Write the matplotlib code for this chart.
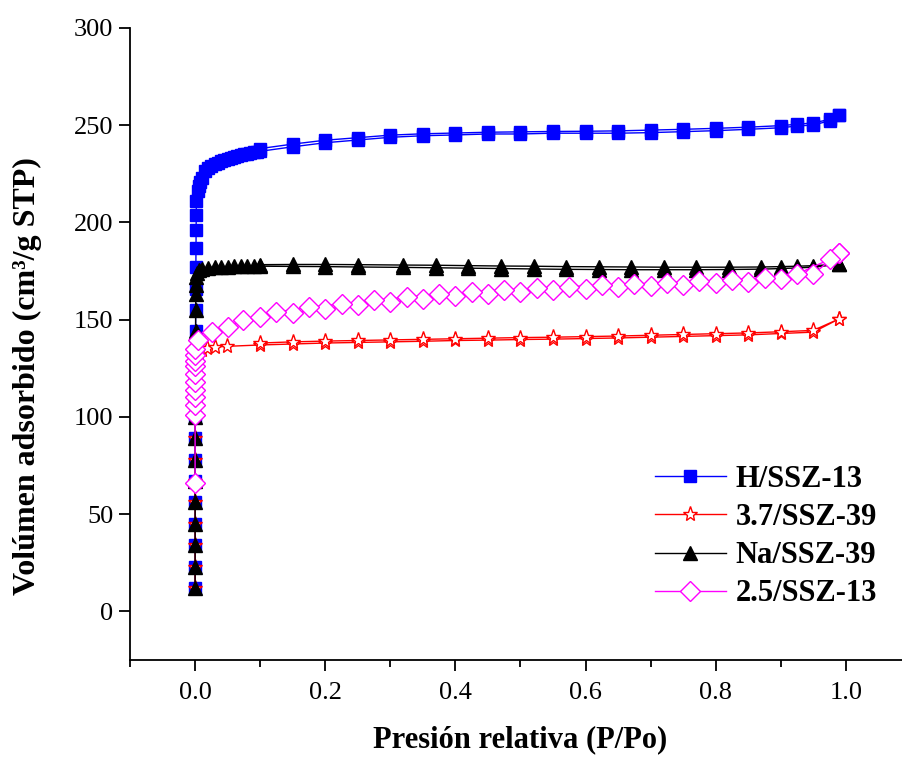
import matplotlib
matplotlib.use('Agg')
import matplotlib.pyplot as plt
from matplotlib.ticker import MultipleLocator

plt.rcParams['font.family'] = ['Liberation Serif', 'DejaVu Serif']

# low-pressure dosing points (all at P/Po ~ 0)
col_p = [0.00002, 0.00004, 0.00006, 0.00008, 0.0001, 0.00015, 0.0002, 0.0003, 0.0004,
         0.0005, 0.0006, 0.0007, 0.0008, 0.0009, 0.001, 0.0012, 0.0014, 0.0016, 0.0018, 0.002]

# H/SSZ-13
h_ads_p = col_p + [0.004, 0.006, 0.008, 0.01, 0.015, 0.02, 0.025, 0.03, 0.035, 0.04, 0.045,
                   0.05, 0.055, 0.06, 0.065, 0.07, 0.075, 0.08, 0.085, 0.09, 0.095, 0.1,
                   0.15, 0.2, 0.25, 0.3, 0.35, 0.4, 0.45, 0.5, 0.55, 0.6, 0.65, 0.7, 0.75,
                   0.8, 0.85, 0.9, 0.925, 0.95, 0.975, 0.99]
h_ads_v = [12, 23, 34, 45, 56, 67, 78, 89, 100, 111, 122, 133, 144, 155, 166, 177, 187, 196, 204, 211,
           216, 219, 221, 223, 226.5, 228, 229, 230, 230.8, 231.5, 232.2,
           232.8, 233.3, 233.8, 234.2, 234.6, 235, 235.3, 235.6, 236, 236.3, 236.6,
           238.9, 241, 242.4, 243.8, 244.6, 245, 245.5, 245.5, 245.9, 245.9, 245.9, 246.2, 246.7,
           247.2, 247.9, 248.7, 249.6, 250.1, 252.3, 255.2]
h_des_p = [0.99, 0.975, 0.95, 0.925, 0.9, 0.85, 0.8, 0.75, 0.7, 0.65, 0.6, 0.55, 0.5, 0.45,
           0.4, 0.35, 0.3, 0.25, 0.2, 0.15, 0.1]
h_des_v = [255.2, 253, 251.2, 250.5, 249.8, 249, 248.4, 247.9, 247.5, 247.1, 246.9, 246.8,
           246.6, 246.4, 246, 245.6, 244.9, 243.6, 242.3, 240.3, 238]

# 3.7/SSZ-39
r_ads_p = col_p[:13] + [0.005, 0.01, 0.018, 0.031, 0.049, 0.1, 0.15, 0.2, 0.25, 0.3, 0.35, 0.4,
                        0.45, 0.5, 0.55, 0.6, 0.65, 0.7, 0.75, 0.8, 0.85, 0.9, 0.95, 0.99]
r_ads_v = [12, 23, 34, 45, 56, 67, 78, 89, 100, 111, 120, 126, 130,
           133, 134.5, 135.5, 136, 136.3, 137, 137.5, 138, 138.3, 138.6, 138.9, 139.3,
           139.5, 139.8, 140, 140.3, 140.6, 141, 141.4, 141.8, 142.2, 142.9, 143.6, 150.5]
r_des_p = [0.99, 0.95, 0.9, 0.85, 0.8, 0.75, 0.7, 0.65, 0.6, 0.55, 0.5, 0.45, 0.4, 0.35,
           0.3, 0.25, 0.2, 0.15, 0.1]
r_des_v = [150.5, 144.5, 143.8, 143.2, 142.8, 142.4, 142, 141.6, 141.3, 141, 140.8, 140.5,
           140.2, 139.9, 139.6, 139.3, 139, 138.6, 138]

# Na/SSZ-39
k_ads_p = col_p[:17] + [0.003, 0.006, 0.01, 0.02, 0.03, 0.04, 0.05, 0.06, 0.07, 0.08, 0.09, 0.1,
                        0.15, 0.2, 0.25, 0.32, 0.37, 0.42, 0.47, 0.52, 0.57, 0.62, 0.67, 0.72,
                        0.77, 0.82, 0.87, 0.9, 0.925, 0.95, 0.99]
k_ads_v = [12, 23, 34, 45, 56, 67, 78, 89, 100, 111, 122, 133, 144, 155, 163, 168, 172,
           174, 175.5, 176.3, 176.8, 177, 177.2, 177.3, 177.4, 177.5, 177.5, 177.5, 177.5,
           177.4, 177.3, 177.1, 176.9, 176.7, 176.5, 176.3, 176.1, 175.9, 175.8, 175.7, 175.7,
           175.7, 175.8, 176, 176.3, 176.6, 177, 178.5]
k_des_p = [0.99, 0.95, 0.925, 0.9, 0.87, 0.82, 0.77, 0.72, 0.67, 0.62, 0.57, 0.52, 0.47,
           0.42, 0.37, 0.32, 0.25, 0.2, 0.15, 0.1]
k_des_v = [178.5, 177.8, 177.5, 177.3, 177.1, 177, 177, 177, 177.1, 177.2, 177.3, 177.5,
           177.6, 177.8, 178, 178.1, 178.3, 178.4, 178.4, 178.3]

# 2.5/SSZ-13
m_ads_p = col_p[:11] + [0.005, 0.026, 0.051, 0.074, 0.1, 0.15, 0.2, 0.25, 0.3, 0.35, 0.4, 0.45,
                        0.5, 0.55, 0.6, 0.65, 0.7, 0.75, 0.8, 0.85, 0.9, 0.95, 0.99]
m_ads_v = [66, 101, 106, 110, 114, 118, 122, 126, 129, 132, 135,
           139.5, 143.7, 146.3, 149.7, 151.2, 153.5, 155.5, 157.3, 159, 160.5, 162, 163.2,
           164.3, 165.2, 166, 166.7, 167.3, 168, 168.7, 169.5, 170.8, 173.5, 184.5]
m_des_p = [0.99, 0.975, 0.925, 0.875, 0.825, 0.775, 0.725, 0.675, 0.625, 0.575, 0.525, 0.475,
           0.425, 0.375, 0.325, 0.275, 0.225, 0.175, 0.125]
m_des_v = [184.5, 181, 173.5, 171.5, 170.5, 169.7, 169, 168.4, 167.7, 167, 166.2, 165.3,
           164.2, 163, 161.6, 160, 158.2, 156.3, 154]

labels = ['H/SSZ-13', '3.7/SSZ-39', 'Na/SSZ-39', '2.5/SSZ-13']
xtick_vals = [0.0, 0.2, 0.4, 0.6, 0.8, 1.0]

fig = plt.figure(figsize=(9.03, 7.57), dpi=100)
ax = fig.add_axes([130 / 903, 97 / 757, 781 / 903, 632 / 757])

ax.plot(h_ads_p + h_des_p, h_ads_v + h_des_v, color='#0000ff', lw=1, marker='s', ms=9,
        mfc='#0000ff', mec='#0000ff', label=labels[0])
ax.plot(r_ads_p + r_des_p, r_ads_v + r_des_v, color='#ff0000', lw=1, marker='*', ms=11,
        mfc='white', mec='#ff0000', mew=1, label=labels[1])
ax.plot(k_ads_p + k_des_p, k_ads_v + k_des_v, color='black', lw=1, marker='^', ms=10,
        mfc='black', mec='black', label=labels[2])
ax.plot(m_ads_p + m_des_p, m_ads_v + m_des_v, color='#ff00ff', lw=1, marker='D', ms=10,
        mfc='white', mec='#ff00ff', mew=1, label=labels[3])

ax.set_xlim(-0.1, 1.1)
ax.set_ylim(-25, 300)
ax.xaxis.set_minor_locator(MultipleLocator(0.1))
ax.yaxis.set_major_locator(MultipleLocator(50))
ax.set_xticks(xtick_vals)
ax.set_xticklabels(['%.1f' % v for v in xtick_vals])

for s in ['top', 'right']:
    ax.spines[s].set_visible(False)
for s in ['left', 'bottom']:
    ax.spines[s].set_linewidth(1.3)

ax.tick_params(axis='both', which='major', direction='out', length=8, width=1.3,
               labelsize=19, pad=4)
ax.tick_params(axis='x', which='minor', direction='out', length=5, width=1.3)
ax.tick_params(axis='x', which='major', pad=8)

ax.set_xlabel('Presión relativa (P/Po)', fontsize=22, fontweight='bold', labelpad=15)
ax.set_ylabel('Volúmen adsorbido (cm³/g STP)', fontsize=23, fontweight='bold')
ax.yaxis.set_label_coords(-0.113, 0.45)

ax.legend(loc='upper left', bbox_to_anchor=(0.657, 0.328), borderaxespad=0, frameon=False,
          prop={'size': 22, 'weight': 'bold'}, handlelength=2.3, labelspacing=0.3,
          handletextpad=0.33)

fig.savefig('out.png', dpi=100)
